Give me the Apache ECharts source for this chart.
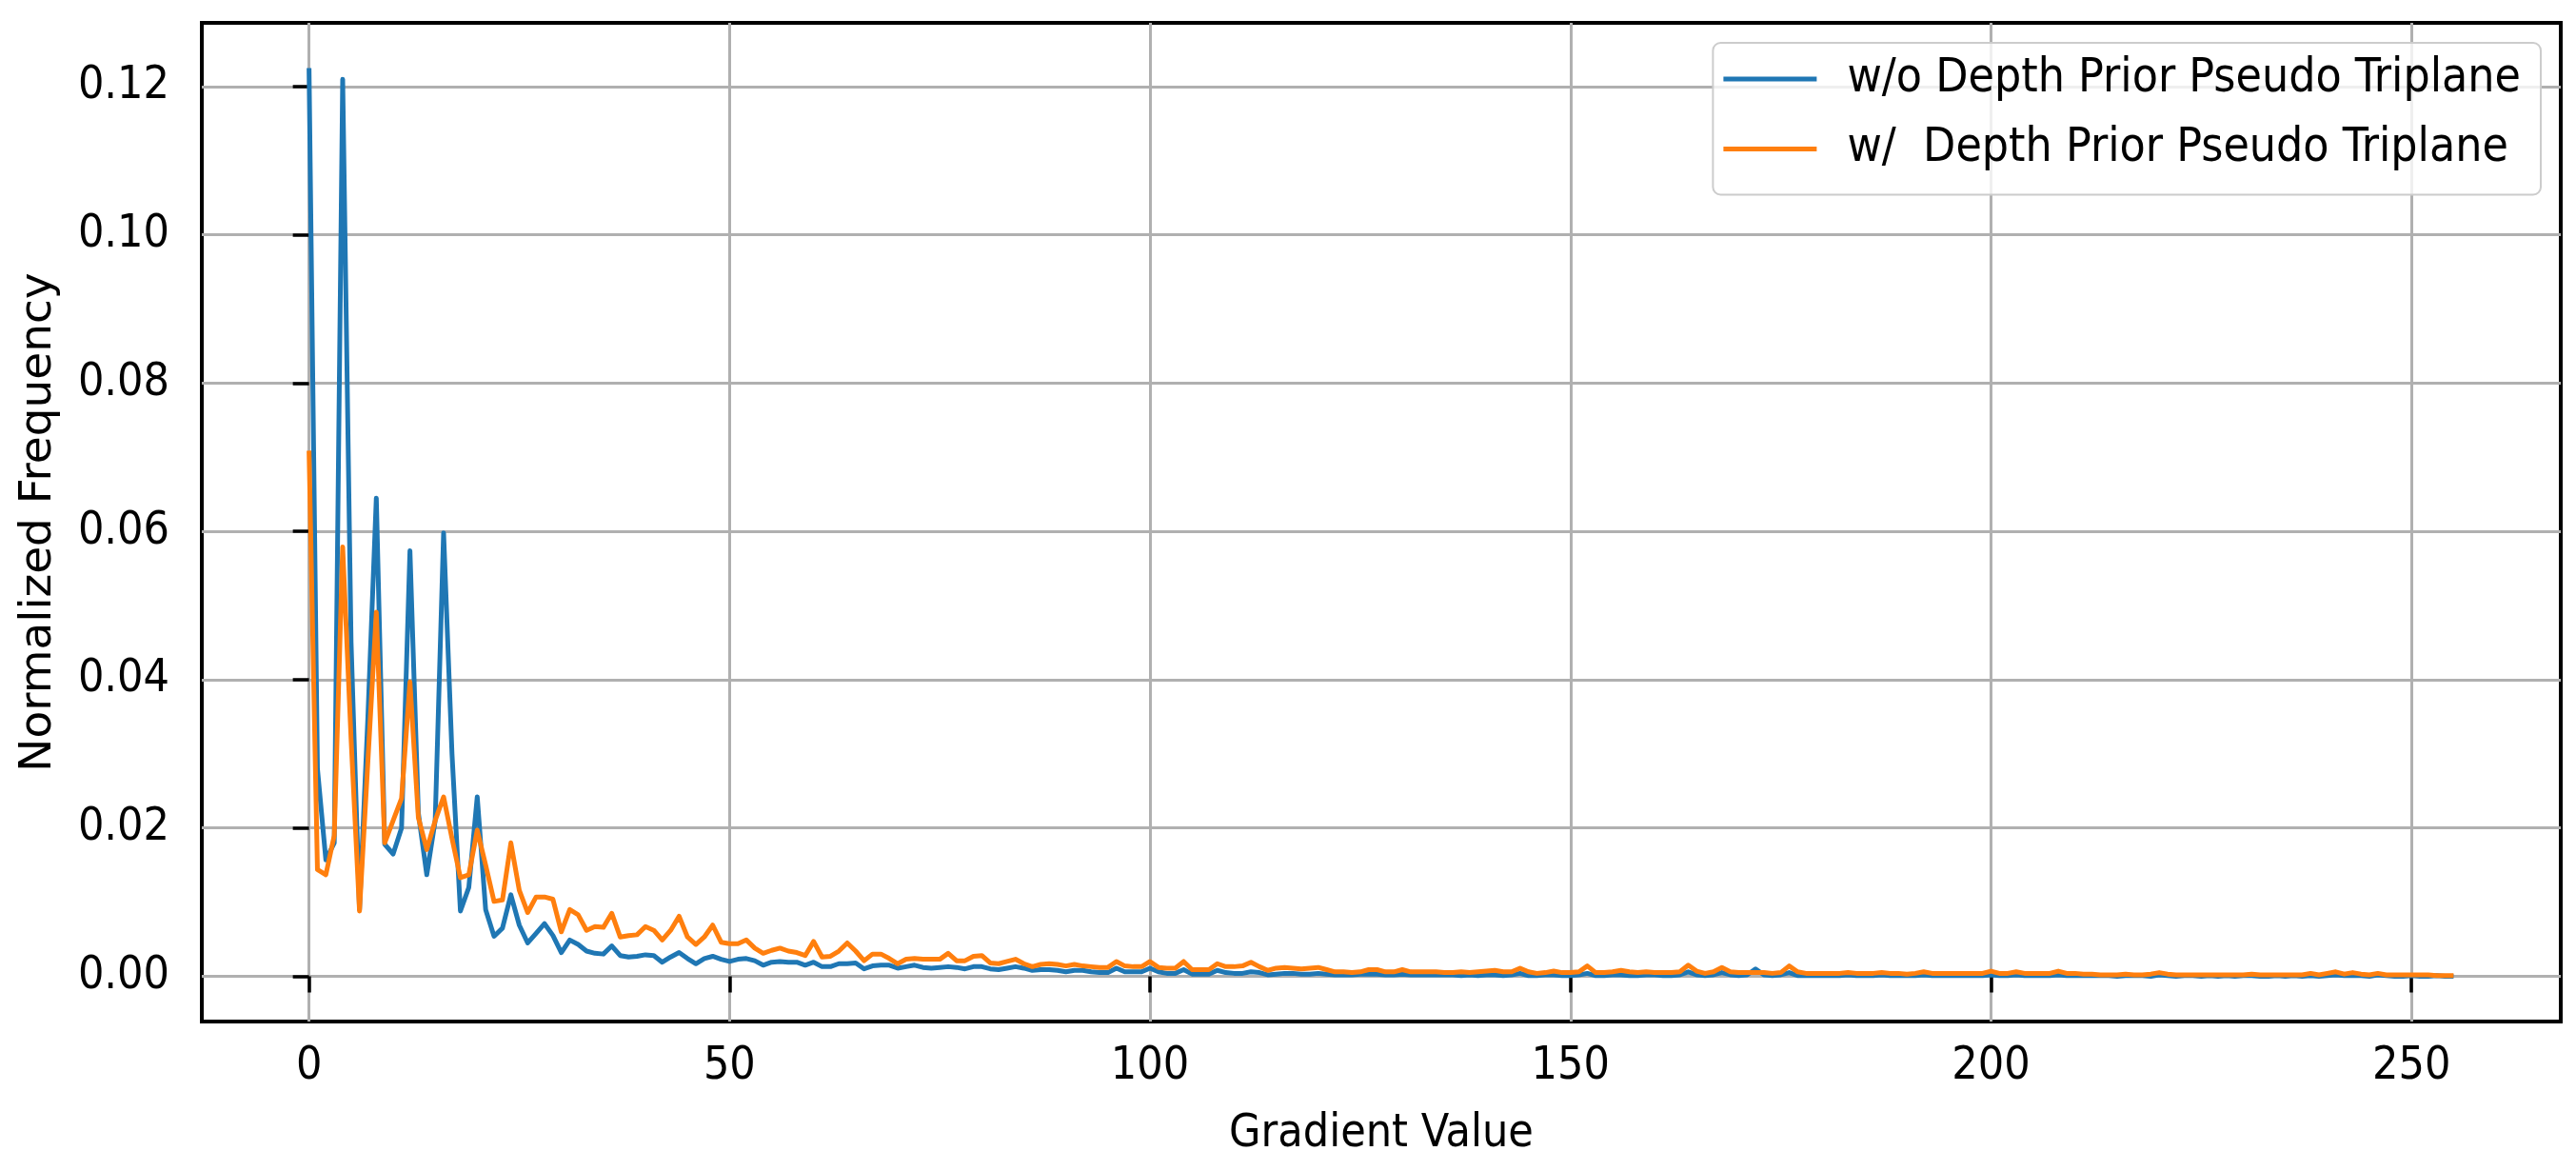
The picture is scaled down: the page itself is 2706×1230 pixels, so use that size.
<!DOCTYPE html>
<html>
<head>
<meta charset="utf-8">
<title>Gradient histogram</title>
<script src="https://cdn.jsdelivr.net/npm/echarts@6/dist/echarts.min.js"></script>
<style>
  html, body { margin: 0; padding: 0; background: #fff; }
  #chart { width: 2706px; height: 1230px; }
</style>
</head>
<body>
<div id="chart"></div>
<script>
// gradient value bins 0..255
var gradientValues = Array.from({ length: 256 }, (_, i) => i)

// normalized frequency, w/o depth prior
var woDepthPrior = [
  0.1225, 0.028, 0.0157, 0.018, 0.121, 0.045, 0.009, 0.035, 0.0645, 0.0178,
  0.0165, 0.020, 0.0574, 0.022, 0.0137, 0.021, 0.0598, 0.030, 0.0088, 0.012,
  0.0242, 0.009, 0.0054, 0.0065, 0.011, 0.0069, 0.0045, 0.0058, 0.0071, 0.0055,
  0.0032, 0.0049, 0.0043, 0.0034, 0.0031, 0.0030, 0.0041, 0.0028, 0.0026, 0.0027,
  0.0029, 0.0028, 0.0019, 0.0026, 0.0032, 0.0024, 0.0017, 0.0024, 0.0027, 0.0023,
  0.0020, 0.0023, 0.0024, 0.0021, 0.0015, 0.0019, 0.0020, 0.0019, 0.0019, 0.0015,
  0.0019, 0.0013, 0.0013, 0.0017, 0.0017, 0.0018, 0.0010, 0.0014, 0.0015, 0.0015,
  0.0011, 0.0013, 0.0015, 0.0012, 0.0011, 0.0012, 0.0013, 0.0012, 0.0010, 0.0013,
  0.0013, 0.0010, 0.0009, 0.0011, 0.0013, 0.0011, 0.0008, 0.0009, 0.0009, 0.0008,
  0.0006, 0.0008, 0.0008, 0.0006, 0.0005, 0.0005, 0.0011, 0.0006, 0.0006, 0.0006,
  0.0011, 0.0006, 0.0004, 0.0004, 0.0009, 0.0003, 0.0003, 0.0003, 0.0008, 0.0005,
  0.0004, 0.0004, 0.0006, 0.0005, 0.0002, 0.0003, 0.0004, 0.0004, 0.0003, 0.0003,
  0.0004, 0.0003, 0.0002, 0.0002, 0.0002, 0.0003, 0.0003, 0.0003, 0.0002, 0.0002,
  0.0003, 0.0002, 0.0002, 0.0002, 0.0002, 0.0002, 0.0002, 0.0001, 0.0002, 0.0001,
  0.0002, 0.0002, 0.0001, 0.0002, 0.0004, 0.0001, 0.0001, 0.0002, 0.0002, 0.0001,
  0.0001, 0.0002, 0.0004, 0.0001, 0.0001, 0.0002, 0.0002, 0.0001, 0.0001, 0.0002,
  0.0002, 0.0001, 0.0001, 0.0002, 0.0006, 0.0002, 0.0001, 0.0002, 0.0005, 0.0002,
  0.0001, 0.0002, 0.0010, 0.0002, 0.0001, 0.0002, 0.0005, 0.0001, 0.0001, 0.0001,
  0.0001, 0.0001, 0.0001, 0.0002, 0.0001, 0.0001, 0.0001, 0.0002, 0.0001, 0.0001,
  0.0001, 0.0001, 0.0002, 0.0001, 0.0001, 0.0001, 0.0001, 0.0001, 0.0001, 0.0001,
  0.0002, 0.0001, 0.0001, 0.0002, 0.0001, 0.0001, 0.0001, 0.0001, 0.0002, 0.0001,
  0.0001, 0.0001, 0.0001, 0.0001, 0.0001, 0.0000, 0.0001, 0.0001, 0.0001, 0.0000,
  0.0002, 0.0001, 0.0000, 0.0001, 0.0001, 0.0000, 0.0001, 0.0000, 0.0001, 0.0000,
  0.0001, 0.0001, 0.0000, 0.0000, 0.0001, 0.0000, 0.0001, 0.0000, 0.0001, 0.0000,
  0.0001, 0.0002, 0.0001, 0.0001, 0.0001, 0.0000, 0.0002, 0.0001, 0.0000, 0.0000,
  0.0001, 0.0000, 0.0000, 0.0001, 0.0000, 0.0000
]

// normalized frequency, w/ depth prior
var wDepthPrior = [
  0.0709, 0.0144, 0.0137, 0.019, 0.0579, 0.032, 0.0088, 0.029, 0.0491, 0.018,
  0.021, 0.024, 0.0397, 0.0214, 0.0171, 0.021, 0.0242, 0.0186, 0.0133, 0.0137,
  0.0197, 0.015, 0.0101, 0.0103, 0.018, 0.0116, 0.0086, 0.0107, 0.0107, 0.0104,
  0.0060, 0.0090, 0.0083, 0.0062, 0.0067, 0.0066, 0.0085, 0.0053, 0.0055, 0.0056,
  0.0067, 0.0062, 0.0049, 0.0062, 0.0081, 0.0053, 0.0043, 0.0053, 0.0069, 0.0046,
  0.0044, 0.0044, 0.0049, 0.0038, 0.0031, 0.0035, 0.0038, 0.0034, 0.0032, 0.0028,
  0.0047, 0.0026, 0.0027, 0.0034, 0.0045, 0.0034, 0.0021, 0.0030, 0.0030, 0.0024,
  0.0017, 0.0023, 0.0024, 0.0023, 0.0023, 0.0023, 0.0031, 0.0021, 0.0021, 0.0027,
  0.0028, 0.0018, 0.0017, 0.0020, 0.0023, 0.0017, 0.0013, 0.0016, 0.0017, 0.0016,
  0.0014, 0.0016, 0.0014, 0.0013, 0.0012, 0.0012, 0.0020, 0.0014, 0.0013, 0.0013,
  0.0020, 0.0012, 0.0011, 0.0011, 0.0020, 0.0009, 0.0009, 0.0009, 0.0017, 0.0013,
  0.0013, 0.0014, 0.0019, 0.0013, 0.0008, 0.0011, 0.0012, 0.0011, 0.0010, 0.0011,
  0.0012, 0.0009, 0.0006, 0.0006, 0.0005, 0.0006, 0.0009, 0.0009, 0.0006, 0.0006,
  0.0009, 0.0006, 0.0006, 0.0006, 0.0006, 0.0005, 0.0005, 0.0006, 0.0005, 0.0006,
  0.0007, 0.0008, 0.0006, 0.0006, 0.0011, 0.0006, 0.0004, 0.0005, 0.0007, 0.0005,
  0.0005, 0.0006, 0.0014, 0.0005, 0.0005, 0.0006, 0.0008, 0.0006, 0.0005, 0.0006,
  0.0005, 0.0005, 0.0005, 0.0006, 0.0015, 0.0007, 0.0004, 0.0006, 0.0012, 0.0006,
  0.0005, 0.0005, 0.0005, 0.0005, 0.0004, 0.0005, 0.0014, 0.0006, 0.0004, 0.0004,
  0.0004, 0.0004, 0.0004, 0.0005, 0.0004, 0.0004, 0.0004, 0.0005, 0.0004, 0.0004,
  0.0003, 0.0004, 0.0006, 0.0004, 0.0004, 0.0004, 0.0004, 0.0004, 0.0004, 0.0004,
  0.0007, 0.0004, 0.0004, 0.0006, 0.0004, 0.0004, 0.0004, 0.0004, 0.0007, 0.0004,
  0.0004, 0.0003, 0.0003, 0.0002, 0.0002, 0.0002, 0.0003, 0.0002, 0.0002, 0.0003,
  0.0005, 0.0003, 0.0002, 0.0002, 0.0002, 0.0002, 0.0002, 0.0002, 0.0002, 0.0002,
  0.0002, 0.0003, 0.0002, 0.0002, 0.0002, 0.0002, 0.0002, 0.0002, 0.0004, 0.0002,
  0.0004, 0.0006, 0.0003, 0.0005, 0.0003, 0.0002, 0.0004, 0.0002, 0.0002, 0.0002,
  0.0002, 0.0002, 0.0002, 0.0001, 0.0001, 0.0001
]

var xTicks = [0, 50, 100, 150, 200, 250]
var yTicks = [0, 0.02, 0.04, 0.06, 0.08, 0.10, 0.12]
var seriesNames = ['w/o Depth Prior Pseudo Triplane', 'w/  Depth Prior Pseudo Triplane']

var FONT = "'DejaVu Sans Condensed', 'DejaVu Sans', sans-serif"

function pairs(values) {
  return gradientValues.map((g, i) => [g, values[i]])
}

function RenderChart() {
  var chart = echarts.init(document.getElementById('chart'))
  var option = {
    animation: false,
    backgroundColor: '#fff',
    textStyle: { fontFamily: FONT, color: '#000' },
    grid: {
      left: 212, right: 16, top: 24, bottom: 157,
      show: true, borderColor: '#000', borderWidth: 4, backgroundColor: '#fff'
    },
    legend: {
      orient: 'vertical',
      right: 37, top: 45,
      align: 'left',
      padding: [13, 21, 23, 11],
      itemGap: 23.5,
      itemWidth: 98, itemHeight: 5,
      icon: 'rect',
      backgroundColor: 'rgba(255,255,255,0.8)',
      borderColor: '#cccccc', borderWidth: 2, borderRadius: 8,
      textStyle: { fontFamily: FONT, fontSize: 49.5, color: '#000', padding: [0, 0, 0, 27] },
      data: seriesNames
    },
    xAxis: {
      type: 'value',
      min: -12.75, max: 267.75,
      name: 'Gradient Value',
      nameLocation: 'middle',
      nameGap: 95,
      nameTextStyle: { fontFamily: FONT, fontSize: 48, color: '#000' },
      axisLine: { show: false },
      axisTick: { show: true, length: 17, lineStyle: { color: '#000', width: 3.5 }, customValues: xTicks },
      axisLabel: { fontSize: 48, color: '#000', margin: 24, customValues: xTicks },
      splitLine: { show: true, lineStyle: { color: '#b0b0b0', width: 3 } }
    },
    yAxis: {
      type: 'value',
      min: -0.0061, max: 0.1286,
      name: 'Normalized Frequency',
      nameLocation: 'middle',
      nameGap: 148,
      nameTextStyle: { fontFamily: "'DejaVu Sans', sans-serif", fontSize: 47, color: '#000' },
      axisLine: { show: false },
      axisTick: { show: true, length: 17, lineStyle: { color: '#000', width: 3.5 }, customValues: yTicks },
      axisLabel: {
        fontSize: 48, color: '#000', margin: 34, customValues: yTicks,
        formatter: v => v.toFixed(2)
      },
      splitLine: { show: true, lineStyle: { color: '#b0b0b0', width: 3 } }
    },
    series: [
      {
        name: seriesNames[0],
        type: 'line',
        data: pairs(woDepthPrior),
        showSymbol: false,
        color: '#1f77b4',
        lineStyle: { width: 5, color: '#1f77b4', join: 'round' }
      },
      {
        name: seriesNames[1],
        type: 'line',
        data: pairs(wDepthPrior),
        showSymbol: false,
        color: '#ff7f0e',
        lineStyle: { width: 5, color: '#ff7f0e', join: 'round' }
      }
    ]
  }
  chart.setOption(option)
}

window.onload = RenderChart
</script>
</body>
</html>
